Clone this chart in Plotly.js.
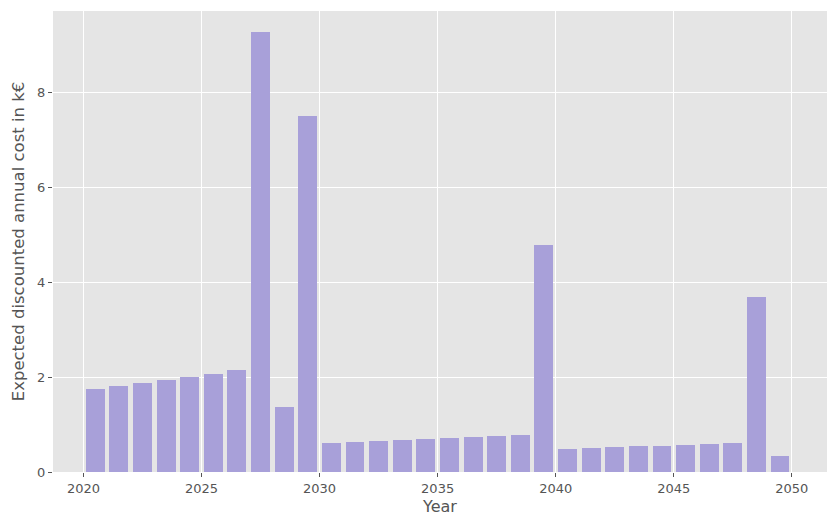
<!DOCTYPE html>
<html>
<head>
<meta charset="utf-8">
<script src="https://cdn.plot.ly/plotly-3.0.1.min.js"></script>
<style>html,body{margin:0;padding:0;background:#fff;}#chart{width:837px;height:529px;}</style>
</head>
<body>
<div id="chart"></div>
<script>
const years = [2020.5,2021.5,2022.5,2023.5,2024.5,2025.5,2026.5,2027.5,2028.5,2029.5,
               2030.5,2031.5,2032.5,2033.5,2034.5,2035.5,2036.5,2037.5,2038.5,2039.5,
               2040.5,2041.5,2042.5,2043.5,2044.5,2045.5,2046.5,2047.5,2048.5,2049.5];
const costs = [1.74,1.81,1.87,1.93,2.00,2.06,2.15,9.27,1.37,7.50,
               0.61,0.63,0.65,0.67,0.69,0.71,0.73,0.75,0.77,4.78,
               0.48,0.50,0.52,0.54,0.55,0.56,0.58,0.61,3.68,0.33];
const xTicks = [2020,2025,2030,2035,2040,2045,2050];
const yTicks = [0,2,4,6,8];

const trace = {
  type: 'bar',
  x: years,
  y: costs,
  width: 0.8,
  marker: {color: '#A8A0D9', line: {width: 0}},
  hoverinfo: 'x+y'
};

const layout = {
  width: 837, height: 529,
  margin: {l: 53, r: 10, t: 11, b: 57},
  paper_bgcolor: '#ffffff',
  plot_bgcolor: '#E5E5E5',
  font: {family: 'DejaVu Sans, sans-serif', size: 13, color: '#555555'},
  showlegend: false,
  xaxis: {
    range: [2018.71, 2051.49],
    tickvals: xTicks,
    ticktext: xTicks.map(String),
    ticks: 'outside', ticklen: 4, tickwidth: 1, tickcolor: '#555555',
    showgrid: true, gridcolor: '#ffffff', gridwidth: 1,
    zeroline: false, showline: false,
    tickfont: {size: 13, color: '#555555'},
    title: {text: 'Year', font: {size: 16, color: '#555555'}, standoff: 6}
  },
  yaxis: {
    range: [0, 9.72],
    tickvals: yTicks,
    ticktext: yTicks.map(String),
    ticks: 'outside', ticklen: 4, tickwidth: 1, tickcolor: '#555555',
    showgrid: true, gridcolor: '#ffffff', gridwidth: 1,
    zeroline: false, showline: false,
    tickfont: {size: 13, color: '#555555'},
    title: {text: 'Expected discounted annual cost in k€', font: {size: 16.5, color: '#555555'}, standoff: 8}
  },
  bargap: 0
};

Plotly.newPlot('chart', [trace], layout, {displayModeBar: false, staticPlot: true});
</script>
</body>
</html>
